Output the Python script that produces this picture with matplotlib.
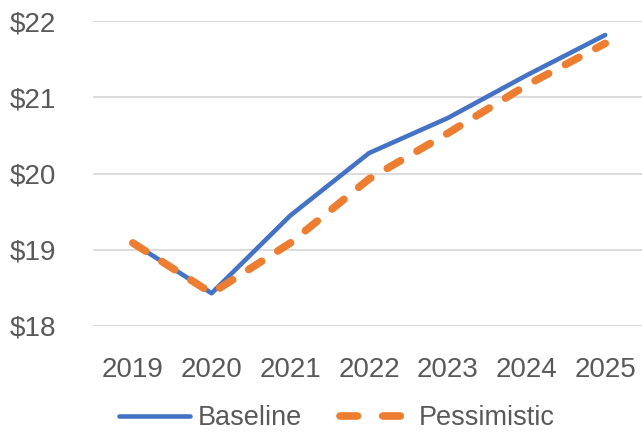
import matplotlib
matplotlib.use("Agg")
import matplotlib.pyplot as plt
from matplotlib.lines import Line2D

years = ["2019", "2020", "2021", "2022", "2023", "2024", "2025"]
baseline = [19.09, 18.43, 19.45, 20.27, 20.73, 21.29, 21.82]
pessimistic = [19.09, 18.43, 19.09, 19.93, 20.53, 21.16, 21.71]
yticks = [18, 19, 20, 21, 22]

BLUE, ORANGE = "#4472C4", "#ED7D31"
TEXT, GRID = "#595959", "#D9D9D9"

plt.rcParams["font.family"] = ["Liberation Sans", "DejaVu Sans"]

fig = plt.figure(figsize=(6.42, 4.33), dpi=100)
ax = fig.add_axes([93.5 / 642, 1 - 326 / 433, 1 - 93.5 / 642 + 0.004, (326 - 21.3) / 433])

x = list(range(len(years)))
ax.plot(x, baseline, color=BLUE, lw=3.3, solid_capstyle="round", solid_joinstyle="round",
        zorder=3)
ax.plot(x, pessimistic, color=ORANGE, lw=5.5, dashes=(2.0, 2.5), dash_capstyle="round",
        zorder=4)

ax.set_xlim(-0.5, len(years) - 0.5)
ax.set_ylim(18, 22)
ax.set_xticks(x)
ax.set_xticklabels(years)
ax.set_yticks(yticks)
ax.set_yticklabels([f"${v}" for v in yticks])
ax.tick_params(axis="both", length=0, labelsize=20, colors=TEXT)
ax.tick_params(axis="y", pad=27)
ax.tick_params(axis="x", pad=22)
ax.grid(axis="y", color=GRID, lw=1.3)
ax.set_axisbelow(True)
for s in ax.spines.values():
    s.set_visible(False)

# legend handles drawn so the dashed sample shows two whole dashes, as in the original
handles = [
    Line2D([], [], color=BLUE, lw=3.3, solid_capstyle="round", label="Baseline"),
    Line2D([], [], color=ORANGE, lw=5.5, dashes=(2.3, 3.3), dash_capstyle="round",
           label="Pessimistic"),
]
fig.legend(handles=handles, loc="center", bbox_to_anchor=(0.525, 1 - 418 / 433), ncol=2,
           frameon=False, fontsize=19.5, handlelength=2.6, handletextpad=0.3,
           columnspacing=1.4, labelcolor=TEXT, borderaxespad=0)

fig.savefig("out.png", dpi=100, facecolor="white")
